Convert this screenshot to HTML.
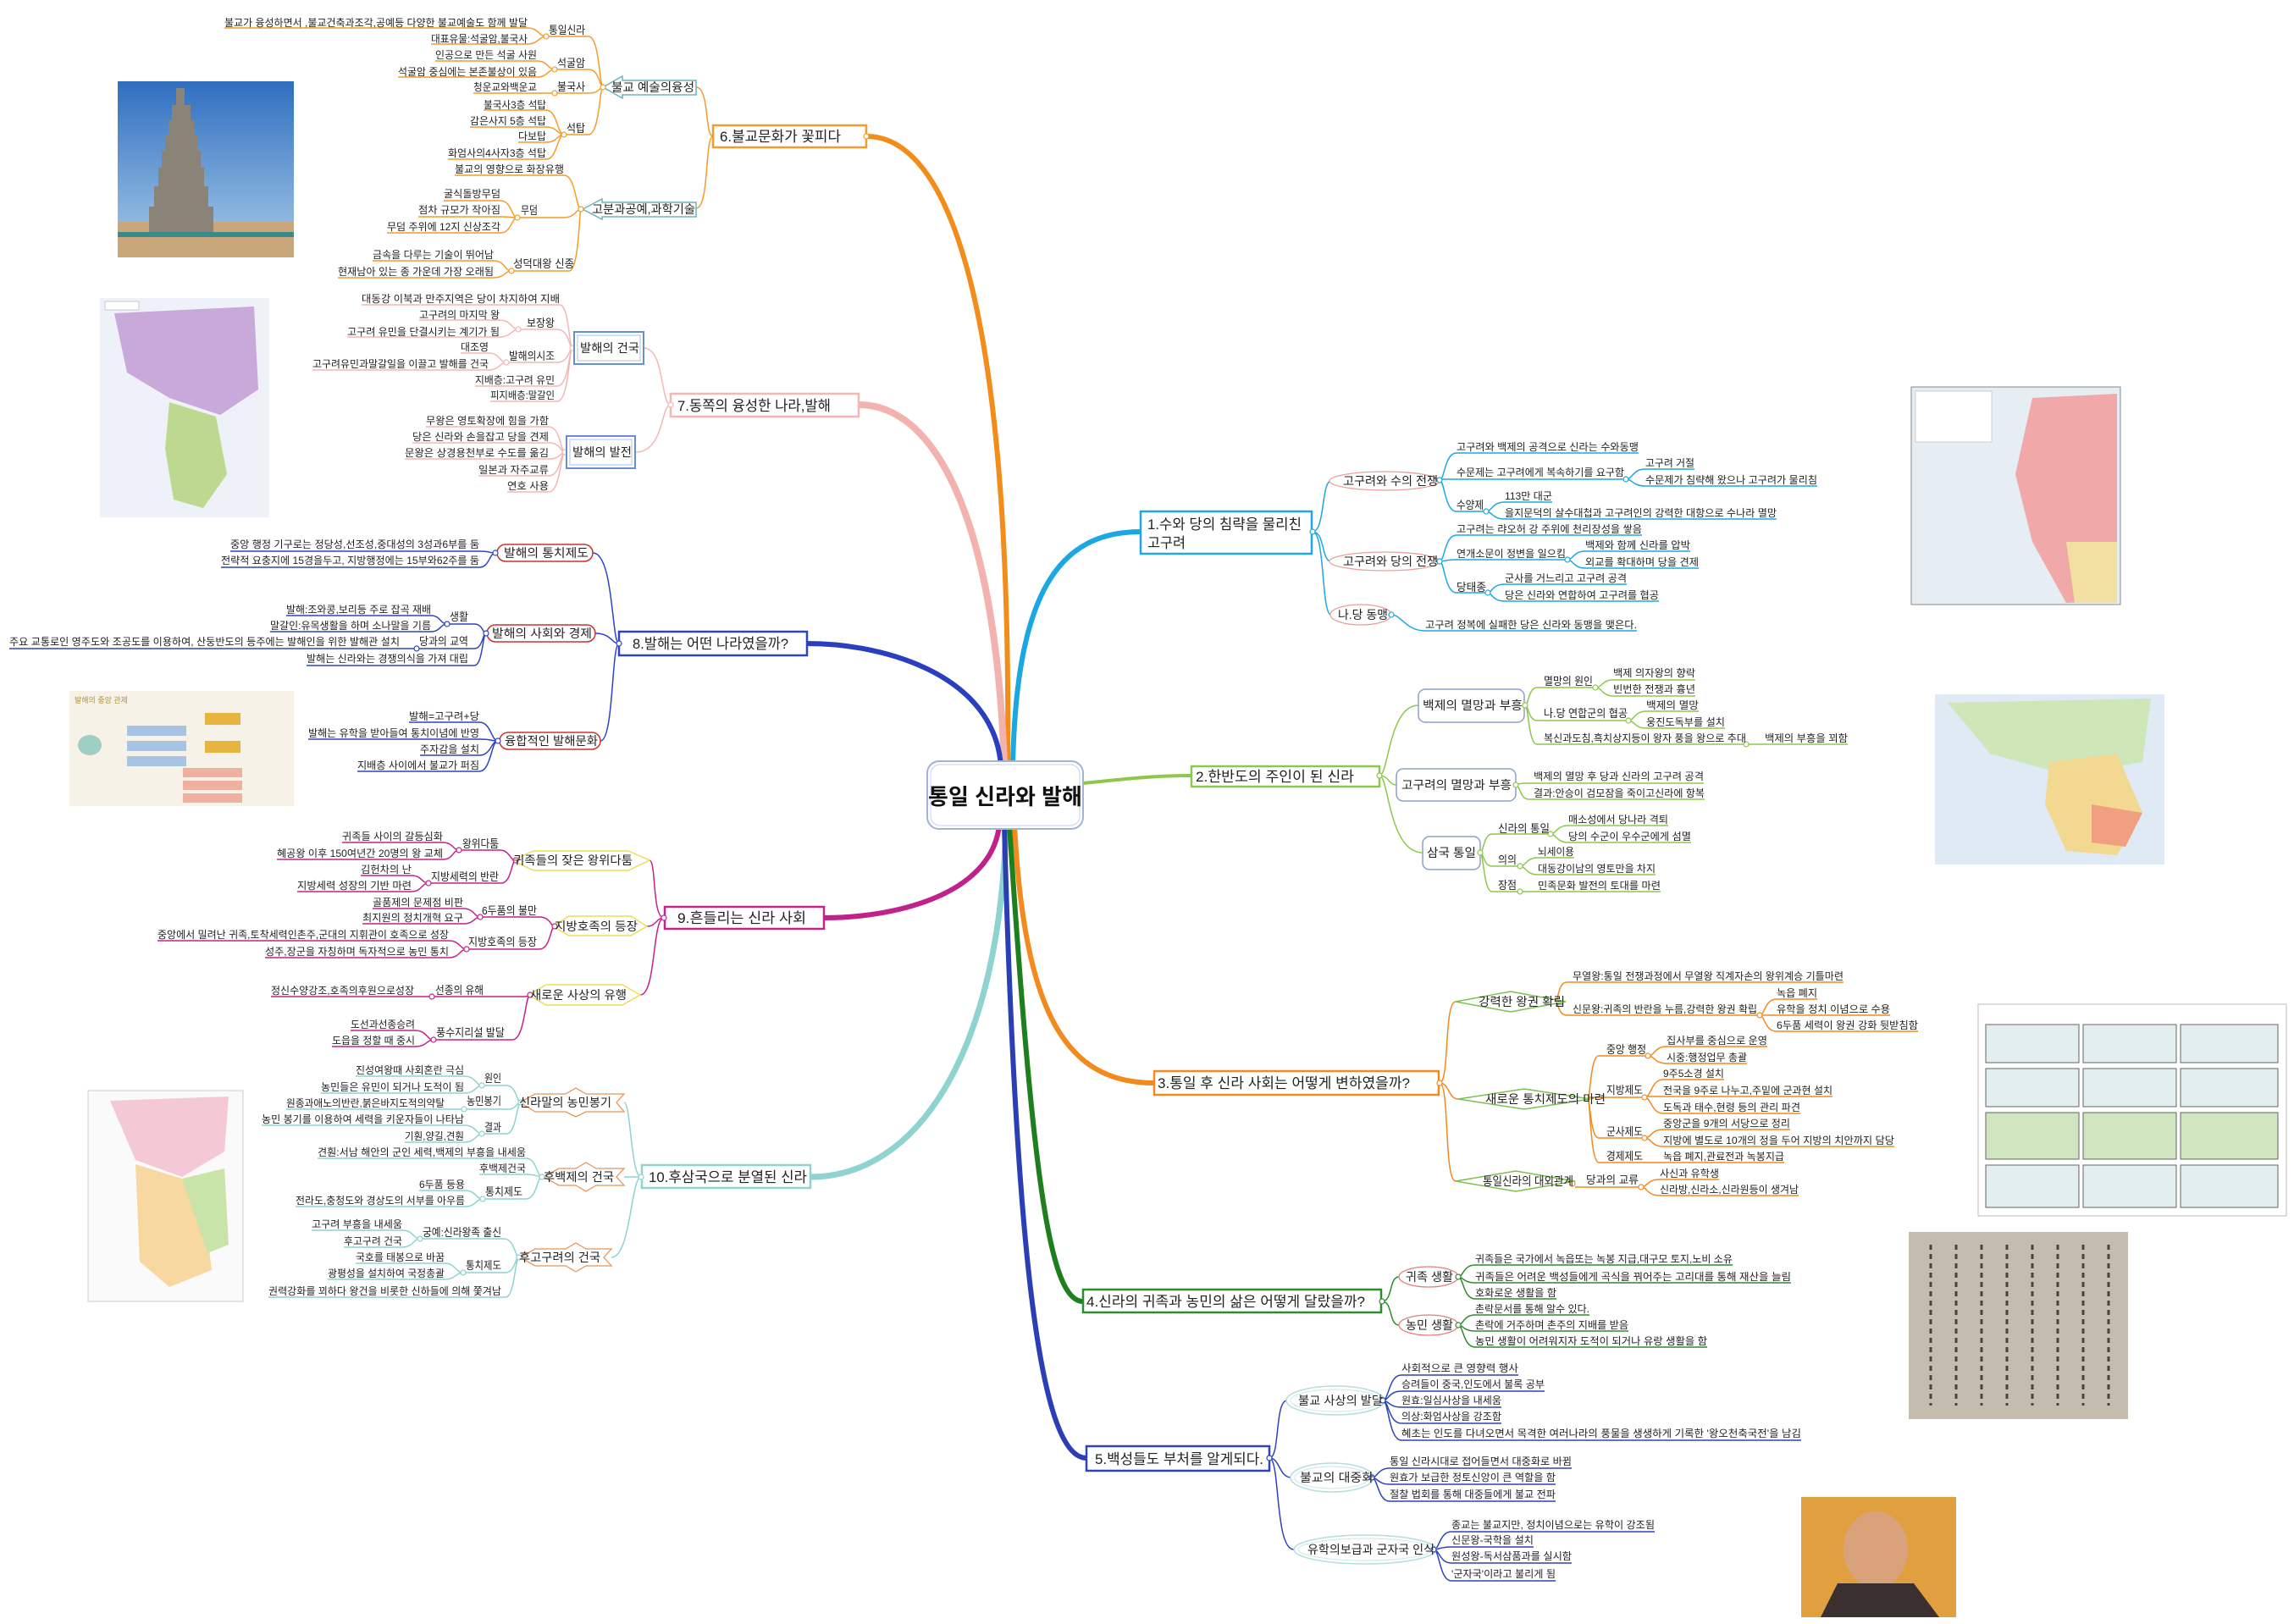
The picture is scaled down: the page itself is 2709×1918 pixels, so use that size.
<!DOCTYPE html>
<html><head><meta charset="utf-8"><style>
html,body{margin:0;padding:0;background:#fff;}
svg{display:block;}
text{font-family:"Liberation Sans","Noto Sans CJK KR",sans-serif;fill:#222;font-size:12px;}
.l{font-size:13px}.s{font-size:14px}.m{font-size:17px}.c{font-size:26px;font-weight:bold;fill:#111}
path{fill:none}
.dot{fill:#fff;stroke-width:1.2}
</style></head><body>
<svg width="2709" height="1918" viewBox="0 0 2709 1918" xmlns="http://www.w3.org/2000/svg">
<defs>
<linearGradient id="sky" x1="0" y1="0" x2="0" y2="1"><stop offset="0" stop-color="#2f6fc0"/><stop offset="1" stop-color="#a8cbe8"/></linearGradient>
</defs>

<!-- ===== images ===== -->
<rect x="139" y="96" width="208" height="208" fill="url(#sky)"/>
<rect x="139" y="262" width="208" height="42" fill="#c9a77a"/>
<g fill="#8a8478">
<rect x="208" y="104" width="10" height="20"/><rect x="203" y="124" width="22" height="18"/><rect x="199" y="142" width="30" height="18"/><rect x="195" y="160" width="38" height="18"/><rect x="191" y="178" width="46" height="20"/><rect x="187" y="198" width="54" height="22"/><rect x="182" y="220" width="64" height="24"/><rect x="176" y="244" width="76" height="30"/></g>
<rect x="139" y="274" width="208" height="6" fill="#3b8a8a"/>

<rect x="118" y="352" width="200" height="259" fill="#eef2f8"/>
<path d="M135,370 L300,362 L305,460 L260,490 L200,470 L150,440 Z" style="fill:#c9a8da"/>
<path d="M200,475 L255,492 L268,560 L240,600 L205,590 L195,530 Z" style="fill:#bcd98f"/>
<rect x="124" y="356" width="40" height="10" fill="#fff" stroke="#999" stroke-width="0.5"/>

<rect x="82" y="816" width="265" height="136" fill="#f7f2e8"/>
<text x="88" y="830" style="font-size:9px;fill:#b09040">발해의 중앙 관제</text>
<ellipse cx="106" cy="880" rx="14" ry="12" fill="#9fcfc4"/>
<g fill="#a8c4e4"><rect x="150" y="857" width="70" height="12"/><rect x="150" y="875" width="70" height="12"/><rect x="150" y="893" width="70" height="12"/></g>
<g fill="#e8b440"><rect x="242" y="842" width="42" height="14"/><rect x="242" y="875" width="42" height="14"/></g>
<g fill="#f0b0a0"><rect x="216" y="907" width="70" height="11"/><rect x="216" y="922" width="70" height="11"/><rect x="216" y="937" width="70" height="11"/></g>

<rect x="104" y="1288" width="183" height="249" fill="#fafafa" stroke="#ccc"/>
<path d="M130,1300 L270,1295 L265,1360 L215,1390 L160,1370 Z" style="fill:#f4c8d4"/>
<path d="M160,1375 L215,1392 L240,1420 L250,1500 L200,1520 L165,1490 Z" style="fill:#f6d8a0"/>
<path d="M215,1392 L265,1380 L270,1470 L245,1480 Z" style="fill:#c8e4a8"/>

<rect x="2257" y="457" width="247" height="257" fill="#e6edf3" stroke="#888"/>
<path d="M2400,470 L2500,465 L2500,710 L2440,712 L2400,640 L2380,560 Z" style="fill:#f0a8a8"/>
<path d="M2440,640 L2500,640 L2500,712 L2450,712 Z" style="fill:#f2e0a0"/>
<rect x="2262" y="462" width="90" height="60" fill="#fff" stroke="#aaa" stroke-width="0.5"/>

<rect x="2285" y="820" width="271" height="201" fill="#dfeaf5"/>
<path d="M2300,830 L2540,825 L2530,900 L2440,915 L2350,890 Z" style="fill:#cfe6b8"/>
<path d="M2420,900 L2500,890 L2530,960 L2500,1010 L2440,1005 L2415,950 Z" style="fill:#f2d890"/>
<path d="M2470,950 L2530,960 L2510,1000 L2470,995 Z" style="fill:#f0a080"/>

<rect x="2336" y="1186" width="364" height="250" fill="#fff" stroke="#bbb"/>
<g fill="#e2eef0" stroke="#666" stroke-width="1">
<rect x="2345" y="1210" width="110" height="45"/><rect x="2460" y="1210" width="110" height="45"/><rect x="2575" y="1210" width="115" height="45"/>
<rect x="2345" y="1262" width="110" height="45"/><rect x="2460" y="1262" width="110" height="45"/><rect x="2575" y="1262" width="115" height="45"/>
<rect x="2345" y="1314" width="110" height="55" style="fill:#cfe6c0"/><rect x="2460" y="1314" width="110" height="55" style="fill:#cfe6c0"/><rect x="2575" y="1314" width="115" height="55" style="fill:#cfe6c0"/>
<rect x="2345" y="1376" width="110" height="50"/><rect x="2460" y="1376" width="110" height="50"/><rect x="2575" y="1376" width="115" height="50"/></g>

<rect x="2254" y="1455" width="259" height="221" fill="#c4bcae"/>
<g stroke="#4a443c" stroke-width="3" stroke-dasharray="6 5">
<path d="M2280,1470 V1660"/><path d="M2310,1470 V1660"/><path d="M2340,1470 V1660"/><path d="M2370,1470 V1660"/><path d="M2400,1470 V1660"/><path d="M2430,1470 V1660"/><path d="M2460,1470 V1660"/><path d="M2490,1470 V1660"/></g>

<rect x="2127" y="1768" width="183" height="142" fill="#e0a040"/>
<ellipse cx="2215" cy="1830" rx="38" ry="45" fill="#d9a27a"/>
<path d="M2150,1910 L2170,1870 L2260,1870 L2290,1910 Z" style="fill:#3a3030"/>

<!-- ===== main connectors ===== -->
<g stroke-width="6" stroke-linecap="round">
<path d="M1190,905 C1195,320 1110,161 1023,161" stroke="#F28C1A"/>
<path d="M1186,905 C1175,600 1100,478 1014,478" stroke="#F2B3AE" stroke-width="8"/>
<path d="M1182,905 C1175,800 1050,760 953,760" stroke="#2A3EC0"/>
<path d="M1180,975 C1170,1060 1050,1084 973,1084" stroke="#C0228A"/>
<path d="M1188,975 C1180,1250 1080,1390 957,1390" stroke="#8ED3CF" stroke-width="7"/>
<path d="M1196,905 C1200,700 1250,628 1347,628" stroke="#1AA7E2"/>
<path d="M1279,925 C1330,920 1360,916 1407,916" stroke="#8CC84B" stroke-width="4"/>
<path d="M1198,975 C1210,1200 1260,1279 1363,1279" stroke="#F28A1E"/>
<path d="M1192,975 C1220,1400 1240,1537 1279,1537" stroke="#1E7F1E"/>
<path d="M1186,975 C1200,1500 1230,1722 1283,1722" stroke="#2C3EB4"/>
</g>

<!-- center -->
<rect x="1095" y="899" width="184" height="80" rx="14" fill="#fff" stroke="#9fb4d6" stroke-width="2"/>
<rect x="1099" y="903" width="176" height="72" rx="11" fill="#fff" stroke="#c4d2e8" stroke-width="1"/>
<text x="1187" y="950" class="c" text-anchor="middle">통일 신라와 발해</text>

<!-- ===== Branch 6 ===== -->
<g stroke="#F39C2B" stroke-width="1.5">
<rect x="842" y="148" width="181" height="26" fill="#fff" stroke-width="2.5"/>
<path d="M842,161 C832,161 838,103 822,103"/><path d="M842,161 C832,161 838,246 822,246"/>
<polygon points="712,103 735,90 735,95 822,95 822,112 735,112 735,116" fill="#fff" stroke="#6BB5B5"/>
<polygon points="688,247 711,235 711,239 822,239 822,256 711,256 711,259" fill="#fff" stroke="#6BB5B5"/>
<path d="M645,43 H695 C708,43 708,103 712,103"/>
<path d="M265,33 H623 C636,33 636,43 645,43"/><path d="M509,52 H623 C636,52 636,43 645,43"/>
<path d="M655,82 H695 C708,82 708,103 712,103"/>
<path d="M514,72 H634 C647,72 647,82 655,82"/><path d="M470,91 H634 C647,91 647,82 655,82"/>
<path d="M559,110 H695 C708,110 708,103 712,103"/>
<path d="M666,159 H695 C708,159 708,103 712,103"/>
<path d="M571,130 H645 C658,130 658,159 666,159"/><path d="M555,150 H645 C658,150 658,159 666,159"/><path d="M612,168 H645 C658,168 658,159 666,159"/><path d="M529,188 H645 C658,188 658,159 666,159"/>
<path d="M537,207 H666 C680,207 680,247 686,247"/>
<path d="M611,257 H665 C680,257 680,247 686,247"/>
<path d="M524,237 H591 C604,237 604,257 611,257"/><path d="M494,256 H591 C604,256 604,257 611,257"/><path d="M457,275 H591 C604,275 604,257 611,257"/>
<path d="M604,320 H672 C684,320 684,247 686,247"/>
<path d="M440,308 H583 C596,308 596,320 604,320"/><path d="M399,328 H583 C596,328 596,320 604,320"/>
<circle class="dot" cx="712" cy="103" r="3"/><circle class="dot" cx="686" cy="247" r="3"/><circle class="dot" cx="645" cy="43" r="3"/><circle class="dot" cx="655" cy="82" r="3"/><circle class="dot" cx="655" cy="110" r="3"/><circle class="dot" cx="666" cy="159" r="3"/><circle class="dot" cx="611" cy="257" r="3"/><circle class="dot" cx="604" cy="320" r="3"/><circle class="dot" cx="1023" cy="161" r="3"/>
</g>
<text x="850" y="167" class="m" textLength="143" lengthAdjust="spacingAndGlyphs">6.불교문화가 꽃피다</text>
<text x="722" y="108" class="s" textLength="98" lengthAdjust="spacingAndGlyphs">불교 예술의융성</text>
<text x="699" y="252" class="s" textLength="122" lengthAdjust="spacingAndGlyphs">고분과공예,과학기술</text>
<text x="648" y="40" class="l" textLength="43" lengthAdjust="spacingAndGlyphs">통일신라</text>
<text x="265" y="31" textLength="358" lengthAdjust="spacingAndGlyphs">불교가 융성하면서 ,불교건축과조각,공예등 다양한 불교예술도 함께 발달</text>
<text x="509" y="50" textLength="114" lengthAdjust="spacingAndGlyphs">대표유물:석굴암,불국사</text>
<text x="658" y="79" class="l" textLength="33" lengthAdjust="spacingAndGlyphs">석굴암</text>
<text x="514" y="69" textLength="120" lengthAdjust="spacingAndGlyphs">인공으로 만든 석굴 사원</text>
<text x="470" y="89" textLength="164" lengthAdjust="spacingAndGlyphs">석굴암 중심에는 본존불상이 있음</text>
<text x="658" y="107" class="l" textLength="33" lengthAdjust="spacingAndGlyphs">불국사</text>
<text x="559" y="107" textLength="75" lengthAdjust="spacingAndGlyphs">청운교와백운교</text>
<text x="669" y="156" class="l" textLength="22" lengthAdjust="spacingAndGlyphs">석탑</text>
<text x="571" y="128" textLength="74" lengthAdjust="spacingAndGlyphs">불국사3층 석탑</text>
<text x="555" y="147" textLength="90" lengthAdjust="spacingAndGlyphs">감은사지 5층 석탑</text>
<text x="612" y="165" textLength="33" lengthAdjust="spacingAndGlyphs">다보탑</text>
<text x="529" y="185" textLength="116" lengthAdjust="spacingAndGlyphs">화엄사의4사자3층 석탑</text>
<text x="537" y="204" textLength="129" lengthAdjust="spacingAndGlyphs">불교의 영향으로 화장유행</text>
<text x="615" y="253" class="l" textLength="20" lengthAdjust="spacingAndGlyphs">무덤</text>
<text x="524" y="233" textLength="67" lengthAdjust="spacingAndGlyphs">굴식돌방무덤</text>
<text x="494" y="252" textLength="97" lengthAdjust="spacingAndGlyphs">점차 규모가 작아짐</text>
<text x="457" y="272" textLength="134" lengthAdjust="spacingAndGlyphs">무덤 주위에 12지 신상조각</text>
<text x="606" y="316" class="l" textLength="72" lengthAdjust="spacingAndGlyphs">성덕대왕 신종</text>
<text x="440" y="305" textLength="143" lengthAdjust="spacingAndGlyphs">금속을 다루는 기술이 뛰어남</text>
<text x="399" y="325" textLength="184" lengthAdjust="spacingAndGlyphs">현재남아 있는 종 가운데 가장 오래됨</text>

<!-- ===== Branch 7 ===== -->
<g stroke="#F2B8B4" stroke-width="1.5">
<rect x="792" y="465" width="222" height="27" fill="#fff" stroke-width="2.5"/>
<path d="M792,478 C780,478 785,411 760,411"/><path d="M792,478 C780,478 785,534 750,534"/>
<path d="M427,360 H661 C672,360 672,411 676,411"/>
<path d="M612,389 H658 C672,389 672,411 676,411"/>
<path d="M495,378 H590 C604,378 604,389 612,389"/><path d="M410,398 H590 C604,398 604,389 612,389"/>
<path d="M598,428 H658 C672,428 672,411 676,411"/>
<path d="M544,417 H577 C590,417 590,428 598,428"/><path d="M369,437 H577 C590,437 590,428 598,428"/>
<path d="M561,456 H658 C672,456 672,411 676,411"/><path d="M579,474 H658 C672,474 672,411 676,411"/>
<path d="M503,504 H648 C662,504 662,534 667,534"/><path d="M487,523 H648 C662,523 662,534 667,534"/><path d="M478,542 H648 C662,542 662,534 667,534"/><path d="M565,562 H648 C662,562 662,534 667,534"/><path d="M599,581 H648 C662,581 662,534 667,534"/>
<circle class="dot" cx="792" cy="478" r="3"/><circle class="dot" cx="676" cy="411" r="3"/><circle class="dot" cx="667" cy="534" r="3"/><circle class="dot" cx="612" cy="389" r="3"/><circle class="dot" cx="598" cy="428" r="3"/>
</g>
<g fill="#fff" stroke="#6A8FD0" stroke-width="2"><rect x="678" y="392" width="82" height="38"/><rect x="669" y="515" width="81" height="38"/></g>
<g fill="none" stroke="#A9C0E8" stroke-width="1"><rect x="682" y="396" width="74" height="30"/><rect x="673" y="519" width="73" height="30"/></g>
<text x="800" y="485" class="m" textLength="181" lengthAdjust="spacingAndGlyphs">7.동쪽의 융성한 나라,발해</text>
<text x="685" y="416" class="s" textLength="70" lengthAdjust="spacingAndGlyphs">발해의 건국</text>
<text x="676" y="539" class="s" textLength="70" lengthAdjust="spacingAndGlyphs">발해의 발전</text>
<text x="427" y="357" textLength="234" lengthAdjust="spacingAndGlyphs">대동강 이북과 만주지역은 당이 차지하여 지배</text>
<text x="622" y="386" class="l" textLength="33" lengthAdjust="spacingAndGlyphs">보장왕</text>
<text x="495" y="376" textLength="95" lengthAdjust="spacingAndGlyphs">고구려의 마지막 왕</text>
<text x="410" y="396" textLength="180" lengthAdjust="spacingAndGlyphs">고구려 유민을 단결시키는 계기가 됨</text>
<text x="601" y="425" class="l" textLength="54" lengthAdjust="spacingAndGlyphs">발해의시조</text>
<text x="544" y="414" textLength="33" lengthAdjust="spacingAndGlyphs">대조영</text>
<text x="369" y="434" textLength="208" lengthAdjust="spacingAndGlyphs">고구려유민과말갈일을 이끌고 발해를 건국</text>
<text x="561" y="453" textLength="94" lengthAdjust="spacingAndGlyphs">지배층:고구려 유민</text>
<text x="579" y="471" textLength="76" lengthAdjust="spacingAndGlyphs">피지배층:말갈인</text>
<text x="503" y="501" textLength="145" lengthAdjust="spacingAndGlyphs">무왕은 영토확장에 힘을 가함</text>
<text x="487" y="520" textLength="161" lengthAdjust="spacingAndGlyphs">당은 신라와 손을잡고 당을 견제</text>
<text x="478" y="539" textLength="170" lengthAdjust="spacingAndGlyphs">문왕은 상경용천부로 수도를 옮김</text>
<text x="565" y="559" textLength="83" lengthAdjust="spacingAndGlyphs">일본과 자주교류</text>
<text x="599" y="578" textLength="49" lengthAdjust="spacingAndGlyphs">연호 사용</text>

<!-- ===== Branch 8 ===== -->
<g stroke="#2D44C4" stroke-width="1.5">
<rect x="731" y="746" width="222" height="28" fill="#fff" stroke-width="2.5"/>
<path d="M731,760 C722,760 725,653 700,653"/><path d="M731,760 C722,760 722,748 703,748"/><path d="M731,760 C722,760 725,875 709,875"/>
<path d="M272,651 H566 C578,651 578,653 585,653"/><path d="M261,670 H566 C578,670 578,653 585,653"/>
<path d="M528,737 H560 C570,737 570,748 574,748"/>
<path d="M338,727 H509 C520,727 520,737 528,737"/><path d="M319,746 H509 C520,746 520,737 528,737"/>
<path d="M11,766 H560 C570,766 570,748 574,748"/>
<path d="M362,786 H560 C570,786 570,748 574,748"/>
<path d="M483,853 H566 C580,853 580,875 588,875"/><path d="M364,873 H566 C580,873 580,875 588,875"/><path d="M496,892 H566 C580,892 580,875 588,875"/><path d="M422,911 H566 C580,911 580,875 588,875"/>
</g>
<g fill="#fff" stroke="#D03030" stroke-width="1.5"><rect x="587" y="643" width="113" height="20" rx="10"/><rect x="575" y="738" width="128" height="20" rx="10"/><rect x="590" y="865" width="119" height="20" rx="10"/></g>
<g stroke="#2D44C4" stroke-width="1.2" class="dot"><circle class="dot" cx="731" cy="760" r="3"/><circle class="dot" cx="585" cy="653" r="3"/><circle class="dot" cx="574" cy="748" r="3"/><circle class="dot" cx="588" cy="875" r="3"/><circle class="dot" cx="528" cy="737" r="3"/><circle class="dot" cx="492" cy="766" r="3"/></g>
<text x="747" y="766" class="m" textLength="184" lengthAdjust="spacingAndGlyphs">8.발해는 어떤 나라였을까?</text>
<text x="595" y="658" class="s" textLength="100" lengthAdjust="spacingAndGlyphs">발해의  통치제도</text>
<text x="581" y="753" class="s" textLength="118" lengthAdjust="spacingAndGlyphs">발해의 사회와 경제</text>
<text x="596" y="880" class="s" textLength="110" lengthAdjust="spacingAndGlyphs">융합적인 발해문화</text>
<text x="272" y="647" textLength="294" lengthAdjust="spacingAndGlyphs">중앙 행정 기구로는 정당성,선조성,중대성의 3성과6부를 둠</text>
<text x="261" y="666" textLength="305" lengthAdjust="spacingAndGlyphs">전략적 요충지에 15경을두고, 지방행정에는 15부와62주를 둠</text>
<text x="531" y="733" class="l" textLength="22" lengthAdjust="spacingAndGlyphs">생활</text>
<text x="338" y="724" textLength="171" lengthAdjust="spacingAndGlyphs">발해:조와콩,보리등 주로 잡곡 재배</text>
<text x="319" y="743" textLength="190" lengthAdjust="spacingAndGlyphs">말갈인:유목생활을 하며 소나말을 기름</text>
<text x="495" y="762" class="l" textLength="58" lengthAdjust="spacingAndGlyphs">당과의 교역</text>
<text x="11" y="762" textLength="461" lengthAdjust="spacingAndGlyphs">주요 교통로인 영주도와 조공도를 이용하여, 산둥반도의 등주에는 발해인을 위한 발해관 설치</text>
<text x="362" y="782" textLength="191" lengthAdjust="spacingAndGlyphs">발해는 신라와는 경쟁의식을 가져 대립</text>
<text x="483" y="850" textLength="83" lengthAdjust="spacingAndGlyphs">발해=고구려+당</text>
<text x="364" y="870" textLength="202" lengthAdjust="spacingAndGlyphs">발해는 유학을 받아들여 통치이념에 반영</text>
<text x="496" y="889" textLength="70" lengthAdjust="spacingAndGlyphs">주자감을 설치</text>
<text x="422" y="908" textLength="144" lengthAdjust="spacingAndGlyphs">지배층 사이에서 불교가 퍼짐</text>

<!-- ===== Branch 9 ===== -->
<g stroke="#C2238C" stroke-width="1.5">
<rect x="785" y="1071" width="188" height="26" fill="#fff" stroke-width="2.5"/>
<path d="M784,1084 C770,1084 775,1016 767,1016"/><path d="M784,1084 C775,1084 775,1094 764,1094"/><path d="M784,1084 C770,1084 775,1175 756,1175"/>
<path d="M542,1004 H590 C602,1004 602,1016 609,1016"/>
<path d="M404,995 H523 C535,995 535,1004 542,1004"/><path d="M327,1015 H523 C535,1015 535,1004 542,1004"/>
<path d="M506,1043 H592 C604,1043 604,1016 609,1016"/>
<path d="M426,1034 H486 C498,1034 498,1043 506,1043"/><path d="M351,1053 H486 C498,1053 498,1043 506,1043"/>
<path d="M567,1083 H637 C650,1083 650,1094 655,1094"/>
<path d="M440,1073 H547 C560,1073 560,1083 567,1083"/><path d="M428,1091 H547 C560,1091 560,1083 567,1083"/>
<path d="M551,1121 H637 C650,1121 650,1094 655,1094"/>
<path d="M186,1111 H530 C543,1111 543,1121 551,1121"/><path d="M313,1131 H530 C543,1131 543,1121 551,1121"/>
<path d="M320,1177 H620 C624,1177 624,1175 626,1175"/>
<path d="M512,1228 H605 C620,1228 620,1175 626,1175"/>
<path d="M414,1217 H490 C504,1217 504,1228 512,1228"/><path d="M392,1236 H490 C504,1236 504,1228 512,1228"/>
</g>
<g fill="#fff" stroke="#EEDD55" stroke-width="1.5">
<polygon points="605,1016 630,1005 742,1005 767,1016 742,1028 630,1028"/>
<polygon points="653,1094 672,1082 745,1082 764,1094 745,1105 672,1105"/>
<polygon points="624,1175 645,1163 735,1163 756,1175 735,1187 645,1187"/></g>
<g stroke="#C2238C"><circle class="dot" cx="784" cy="1084" r="3"/><circle class="dot" cx="609" cy="1016" r="3"/><circle class="dot" cx="655" cy="1094" r="3"/><circle class="dot" cx="626" cy="1175" r="3"/><circle class="dot" cx="542" cy="1004" r="3"/><circle class="dot" cx="506" cy="1043" r="3"/><circle class="dot" cx="567" cy="1083" r="3"/><circle class="dot" cx="551" cy="1121" r="3"/><circle class="dot" cx="510" cy="1177" r="3"/><circle class="dot" cx="512" cy="1228" r="3"/></g>
<text x="800" y="1090" class="m" textLength="152" lengthAdjust="spacingAndGlyphs">9.흔들리는  신라 사회</text>
<text x="606" y="1021" class="s" textLength="141" lengthAdjust="spacingAndGlyphs">귀족들의 잦은 왕위다툼</text>
<text x="655" y="1099" class="s" textLength="98" lengthAdjust="spacingAndGlyphs">지방호족의 등장</text>
<text x="626" y="1180" class="s" textLength="114" lengthAdjust="spacingAndGlyphs">새로운 사상의 유행</text>
<text x="546" y="1001" class="l" textLength="43" lengthAdjust="spacingAndGlyphs">왕위다툼</text>
<text x="404" y="992" textLength="119" lengthAdjust="spacingAndGlyphs">귀족들 사이의 갈등심화</text>
<text x="327" y="1012" textLength="196" lengthAdjust="spacingAndGlyphs">혜공왕 이후 150여년간 20명의 왕 교체</text>
<text x="509" y="1040" class="l" textLength="80" lengthAdjust="spacingAndGlyphs">지방세력의 반란</text>
<text x="426" y="1031" textLength="60" lengthAdjust="spacingAndGlyphs">김헌차의 난</text>
<text x="351" y="1050" textLength="135" lengthAdjust="spacingAndGlyphs">지방세력 성장의 기반 마련</text>
<text x="569" y="1080" class="l" textLength="65" lengthAdjust="spacingAndGlyphs">6두품의 불만</text>
<text x="440" y="1070" textLength="107" lengthAdjust="spacingAndGlyphs">골품제의 문제점 비판</text>
<text x="428" y="1088" textLength="119" lengthAdjust="spacingAndGlyphs">최지원의 정치개혁 요구</text>
<text x="553" y="1117" class="l" textLength="81" lengthAdjust="spacingAndGlyphs">지방호족의 등장</text>
<text x="186" y="1108" textLength="344" lengthAdjust="spacingAndGlyphs">중앙에서 밀려난 귀족,토착세력인촌주,군대의 지휘관이 호족으로 성장</text>
<text x="313" y="1128" textLength="217" lengthAdjust="spacingAndGlyphs">성주,장군을 자칭하며 독자적으로 농민 통치</text>
<text x="514" y="1174" class="l" textLength="57" lengthAdjust="spacingAndGlyphs">선종의 유해</text>
<text x="320" y="1174" textLength="169" lengthAdjust="spacingAndGlyphs">정신수양강조,호족의후원으로성장</text>
<text x="515" y="1224" class="l" textLength="81" lengthAdjust="spacingAndGlyphs">풍수지리설 발달</text>
<text x="414" y="1214" textLength="76" lengthAdjust="spacingAndGlyphs">도선과선종승려</text>
<text x="392" y="1233" textLength="98" lengthAdjust="spacingAndGlyphs">도읍을 정할 때 중시</text>

<!-- ===== Branch 10 ===== -->
<g stroke="#8ED3CF" stroke-width="1.5">
<rect x="758" y="1376" width="199" height="27" fill="#fff" stroke-width="2.5"/>
<path d="M757,1390 C745,1390 745,1302 737,1302"/><path d="M757,1390 H737"/><path d="M757,1390 C745,1390 745,1485 722,1485"/>
<path d="M569,1282 H598 C610,1282 610,1302 615,1302"/>
<path d="M420,1271 H548 C562,1271 562,1282 569,1282"/><path d="M379,1291 H548 C562,1291 562,1282 569,1282"/>
<path d="M338,1310 H600 C610,1310 610,1302 615,1302"/>
<path d="M569,1339 H598 C610,1339 610,1302 615,1302"/>
<path d="M309,1329 H548 C562,1329 562,1339 569,1339"/><path d="M478,1349 H548 C562,1349 562,1339 569,1339"/>
<path d="M375,1368 H621 C634,1368 634,1390 640,1390"/><path d="M566,1387 H621 C634,1387 634,1390 640,1390"/>
<path d="M570,1416 H621 C634,1416 634,1390 640,1390"/>
<path d="M495,1406 H549 C562,1406 562,1416 570,1416"/><path d="M349,1425 H549 C562,1425 562,1416 570,1416"/>
<path d="M496,1463 H595 C608,1463 608,1485 613,1485"/>
<path d="M368,1453 H475 C488,1453 488,1463 496,1463"/><path d="M406,1473 H475 C488,1473 488,1463 496,1463"/>
<path d="M547,1503 H597 C608,1503 608,1485 613,1485"/>
<path d="M420,1492 H525 C538,1492 538,1503 547,1503"/><path d="M387,1511 H525 C538,1511 538,1503 547,1503"/>
<path d="M317,1532 H597 C608,1532 608,1485 613,1485"/>
</g>
<g fill="#fff" stroke="#E89558" stroke-width="1.3">
<polygon points="614,1302 632,1292 668,1292 680,1285 692,1292 737,1292 728,1302 737,1313 692,1313 680,1319 668,1313 632,1313"/>
<polygon points="642,1390 660,1380 680,1380 692,1373 704,1380 737,1380 728,1390 737,1400 704,1400 692,1407 680,1400 660,1400"/>
<polygon points="614,1485 632,1475 668,1475 680,1468 692,1475 722,1475 713,1485 722,1495 692,1495 680,1502 668,1495 632,1495"/></g>
<g stroke="#8ED3CF"><circle class="dot" cx="757" cy="1390" r="3"/><circle class="dot" cx="615" cy="1302" r="3"/><circle class="dot" cx="640" cy="1390" r="3"/><circle class="dot" cx="613" cy="1485" r="3"/><circle class="dot" cx="569" cy="1282" r="3"/><circle class="dot" cx="548" cy="1310" r="3"/><circle class="dot" cx="569" cy="1339" r="3"/><circle class="dot" cx="570" cy="1416" r="3"/><circle class="dot" cx="496" cy="1463" r="3"/><circle class="dot" cx="547" cy="1503" r="3"/></g>
<text x="766" y="1396" class="m" textLength="187" lengthAdjust="spacingAndGlyphs">10.후삼국으로 분열된 신라</text>
<text x="613" y="1307" class="s" textLength="109" lengthAdjust="spacingAndGlyphs">신라말의 농민봉기</text>
<text x="642" y="1395" class="s" textLength="83" lengthAdjust="spacingAndGlyphs">후백제의 건국</text>
<text x="613" y="1490" class="s" textLength="96" lengthAdjust="spacingAndGlyphs">후고구려의 건국</text>
<text x="572" y="1278" class="l" textLength="20" lengthAdjust="spacingAndGlyphs">원인</text>
<text x="420" y="1268" textLength="128" lengthAdjust="spacingAndGlyphs">진성여왕때 사회혼란 극심</text>
<text x="379" y="1288" textLength="169" lengthAdjust="spacingAndGlyphs">농민들은 유민이 되거나 도적이 됨</text>
<text x="551" y="1305" class="l" textLength="41" lengthAdjust="spacingAndGlyphs">농민봉기</text>
<text x="338" y="1307" textLength="187" lengthAdjust="spacingAndGlyphs">원종과애노의반란,붉은바지도적의약탈</text>
<text x="572" y="1336" class="l" textLength="20" lengthAdjust="spacingAndGlyphs">결과</text>
<text x="309" y="1326" textLength="239" lengthAdjust="spacingAndGlyphs">농민 봉기를 이용하여 세력을 키운자들이 나타남</text>
<text x="478" y="1346" textLength="70" lengthAdjust="spacingAndGlyphs">기훤,양길,견훤</text>
<text x="375" y="1365" textLength="246" lengthAdjust="spacingAndGlyphs">견훤:서남 해안의 군인 세력,백제의 부흥을 내세움</text>
<text x="566" y="1384" textLength="55" lengthAdjust="spacingAndGlyphs">후백제건국</text>
<text x="573" y="1412" class="l" textLength="44" lengthAdjust="spacingAndGlyphs">통치제도</text>
<text x="495" y="1403" textLength="54" lengthAdjust="spacingAndGlyphs">6두품 등용</text>
<text x="349" y="1422" textLength="200" lengthAdjust="spacingAndGlyphs">전라도,충청도와 경상도의 서부를 아우름</text>
<text x="499" y="1460" class="l" textLength="93" lengthAdjust="spacingAndGlyphs">궁예:신라왕족 출신</text>
<text x="368" y="1450" textLength="107" lengthAdjust="spacingAndGlyphs">고구려 부흥을 내세움</text>
<text x="406" y="1470" textLength="69" lengthAdjust="spacingAndGlyphs">후고구려 건국</text>
<text x="550" y="1499" class="l" textLength="42" lengthAdjust="spacingAndGlyphs">통치제도</text>
<text x="420" y="1489" textLength="105" lengthAdjust="spacingAndGlyphs">국호를 태봉으로 바꿈</text>
<text x="387" y="1508" textLength="138" lengthAdjust="spacingAndGlyphs">광평성을 설치하여 국정총괄</text>
<text x="317" y="1529" textLength="275" lengthAdjust="spacingAndGlyphs">권력강화를 꾀하다 왕건을 비롯한 신하들에 의해 쫓겨남</text>

<!-- ===== Branch 1 ===== -->
<g stroke="#1EA7E1" stroke-width="1.5">
<rect x="1347" y="604" width="202" height="50" fill="#fff" stroke-width="2.5"/>
<path d="M1550,628 C1565,628 1560,568 1572,568"/><path d="M1550,628 C1565,628 1560,663 1572,663"/><path d="M1550,628 C1565,628 1560,726 1572,726"/>
<path d="M1935,535 H1720 C1706,535 1706,567 1700,567"/>
<path d="M1920,566 H1700"/>
<path d="M2001,554 H1943 C1928,554 1928,566 1920,566"/><path d="M2146,574 H1943 C1928,574 1928,566 1920,566"/>
<path d="M1755,604 H1720 C1706,604 1706,567 1700,567"/>
<path d="M1833,593 H1777 C1762,593 1762,604 1755,604"/><path d="M2098,613 H1777 C1762,613 1762,604 1755,604"/>
<path d="M1939,632 H1720 C1706,632 1706,663 1700,663"/>
<path d="M1851,661 H1720 C1706,661 1706,663 1700,663"/>
<path d="M1996,651 H1872 C1858,651 1858,661 1851,661"/><path d="M2006,671 H1872 C1858,671 1858,661 1851,661"/>
<path d="M1757,700 H1720 C1706,700 1706,663 1700,663"/>
<path d="M1921,690 H1777 C1762,690 1762,700 1757,700"/><path d="M1959,710 H1777 C1762,710 1762,700 1757,700"/>
<path d="M1933,745 H1683 C1660,745 1655,726 1643,726"/>
</g>
<g fill="#fff" stroke="#E8A0A0" stroke-width="1.3"><ellipse cx="1635" cy="568" rx="65" ry="11"/><ellipse cx="1635" cy="663" rx="65" ry="11"/><ellipse cx="1607" cy="726" rx="36" ry="12"/></g>
<g stroke="#1EA7E1"><circle class="dot" cx="1550" cy="628" r="3"/><circle class="dot" cx="1700" cy="567" r="3"/><circle class="dot" cx="1700" cy="663" r="3"/><circle class="dot" cx="1643" cy="726" r="3"/><circle class="dot" cx="1920" cy="566" r="3"/><circle class="dot" cx="1755" cy="604" r="3"/><circle class="dot" cx="1851" cy="661" r="3"/><circle class="dot" cx="1757" cy="700" r="3"/></g>
<text x="1355" y="625" class="m" textLength="182" lengthAdjust="spacingAndGlyphs">1.수와 당의 침략을 물리친</text>
<text x="1355" y="647" class="m" textLength="45" lengthAdjust="spacingAndGlyphs">고구려</text>
<text x="1586" y="573" class="s" textLength="112" lengthAdjust="spacingAndGlyphs">고구려와 수의 전쟁</text>
<text x="1586" y="668" class="s" textLength="112" lengthAdjust="spacingAndGlyphs">고구려와 당의 전쟁</text>
<text x="1580" y="731" class="s" textLength="59" lengthAdjust="spacingAndGlyphs">나.당 동맹</text>
<text x="1720" y="532" textLength="215" lengthAdjust="spacingAndGlyphs">고구려와 백제의 공격으로 신라는 수와동맹</text>
<text x="1720" y="562" textLength="198" lengthAdjust="spacingAndGlyphs">수문제는 고구려에게 복속하기를 요구함</text>
<text x="1943" y="551" textLength="58" lengthAdjust="spacingAndGlyphs">고구려 거절</text>
<text x="1943" y="571" textLength="203" lengthAdjust="spacingAndGlyphs">수문제가 침략해 왔으나 고구려가 물리침</text>
<text x="1720" y="601" class="l" textLength="32" lengthAdjust="spacingAndGlyphs">수양제</text>
<text x="1777" y="590" textLength="56" lengthAdjust="spacingAndGlyphs">113만 대군</text>
<text x="1777" y="610" textLength="321" lengthAdjust="spacingAndGlyphs">을지문덕의 살수대첩과 고구려인의 강력한 대항으로 수나라 멸망</text>
<text x="1720" y="629" textLength="219" lengthAdjust="spacingAndGlyphs">고구려는 랴오허 강 주위에 천리장성을 쌓음</text>
<text x="1720" y="658" textLength="129" lengthAdjust="spacingAndGlyphs">연개소문이 정변을 일으킴</text>
<text x="1872" y="648" textLength="124" lengthAdjust="spacingAndGlyphs">백제와 함께 신라를 압박</text>
<text x="1872" y="668" textLength="134" lengthAdjust="spacingAndGlyphs">외교를 확대하며 당을 견제</text>
<text x="1720" y="698" class="l" textLength="35" lengthAdjust="spacingAndGlyphs">당태종</text>
<text x="1777" y="687" textLength="144" lengthAdjust="spacingAndGlyphs">군사를 거느리고 고구려 공격</text>
<text x="1777" y="707" textLength="182" lengthAdjust="spacingAndGlyphs">당은 신라와 연합하여 고구려를 협공</text>
<text x="1683" y="742" textLength="250" lengthAdjust="spacingAndGlyphs">고구려 정복에 실패한 당은 신라와 동맹을 맺은다.</text>

<!-- ===== Branch 2 ===== -->
<g stroke="#8CC84B" stroke-width="1.5">
<rect x="1407" y="905" width="222" height="24" fill="#fff" stroke-width="2.5"/>
<path d="M1629,916 C1640,916 1640,833 1675,833"/><path d="M1629,916 C1640,916 1640,927 1649,927"/><path d="M1629,916 C1640,916 1640,1007 1680,1007"/>
<path d="M1884,812 H1815 C1805,812 1805,833 1801,833"/>
<path d="M2002,803 H1905 C1892,803 1892,812 1884,812"/><path d="M2002,822 H1905 C1892,822 1892,812 1884,812"/>
<path d="M1923,851 H1815 C1805,851 1805,833 1801,833"/>
<path d="M2006,840 H1944 C1930,840 1930,851 1923,851"/><path d="M2037,860 H1944 C1930,860 1930,851 1923,851"/>
<path d="M2182,879 H1815 C1805,879 1805,833 1801,833"/>
<path d="M2012,925 H1800 C1793,925 1793,927 1790,927"/><path d="M2013,944 H1805 C1795,944 1795,927 1790,927"/>
<path d="M1831,985 H1762 C1752,985 1752,1007 1748,1007"/>
<path d="M1970,975 H1852 C1838,975 1838,985 1831,985"/><path d="M1997,995 H1852 C1838,995 1838,985 1831,985"/>
<path d="M1795,1023 H1762 C1752,1023 1752,1007 1748,1007"/>
<path d="M1859,1013 H1816 C1802,1013 1802,1023 1795,1023"/><path d="M1955,1033 H1816 C1802,1033 1802,1023 1795,1023"/>
<path d="M1961,1053 H1762 C1752,1053 1752,1007 1748,1007"/>
</g>
<g fill="#fff" stroke="#8DA0C8" stroke-width="1.5"><rect x="1675" y="814" width="125" height="39" rx="8"/><rect x="1649" y="908" width="141" height="38" rx="8"/><rect x="1680" y="988" width="68" height="39" rx="8"/></g>
<g stroke="#8CC84B"><circle class="dot" cx="1629" cy="916" r="3"/><circle class="dot" cx="1801" cy="833" r="3"/><circle class="dot" cx="1790" cy="927" r="3"/><circle class="dot" cx="1748" cy="1007" r="3"/><circle class="dot" cx="1884" cy="812" r="3"/><circle class="dot" cx="1923" cy="851" r="3"/><circle class="dot" cx="2062" cy="879" r="3"/><circle class="dot" cx="1831" cy="985" r="3"/><circle class="dot" cx="1795" cy="1023" r="3"/><circle class="dot" cx="1795" cy="1053" r="3"/></g>
<text x="1412" y="923" class="m" textLength="187" lengthAdjust="spacingAndGlyphs">2.한반도의 주인이 된 신라</text>
<text x="1680" y="838" class="s" textLength="118" lengthAdjust="spacingAndGlyphs">백제의 멸망과 부흥</text>
<text x="1655" y="932" class="s" textLength="130" lengthAdjust="spacingAndGlyphs">고구려의 멸망과 부흥</text>
<text x="1685" y="1012" class="s" textLength="58" lengthAdjust="spacingAndGlyphs">삼국 통일</text>
<text x="1823" y="809" class="l" textLength="58" lengthAdjust="spacingAndGlyphs">멸망의 원인</text>
<text x="1905" y="799" textLength="97" lengthAdjust="spacingAndGlyphs">백제 의자왕의 향락</text>
<text x="1905" y="818" textLength="97" lengthAdjust="spacingAndGlyphs">빈번한 전쟁과 흉년</text>
<text x="1823" y="847" class="l" textLength="99" lengthAdjust="spacingAndGlyphs">나.당 연합군의 협공</text>
<text x="1944" y="837" textLength="62" lengthAdjust="spacingAndGlyphs">백제의 멸망</text>
<text x="1944" y="857" textLength="93" lengthAdjust="spacingAndGlyphs">웅진도독부를 설치</text>
<text x="1823" y="876" textLength="239" lengthAdjust="spacingAndGlyphs">복신과도침,흑치상지등이 왕자 풍을 왕으로 추대</text>
<text x="2084" y="876" textLength="98" lengthAdjust="spacingAndGlyphs">백제의 부흥을 꾀함</text>
<text x="1811" y="921" textLength="201" lengthAdjust="spacingAndGlyphs">백제의 멸망 후 당과 신라의 고구려 공격</text>
<text x="1811" y="941" textLength="202" lengthAdjust="spacingAndGlyphs">결과:안승이 검모잠을 죽이고신라에 항복</text>
<text x="1769" y="983" class="l" textLength="61" lengthAdjust="spacingAndGlyphs">신라의 통일</text>
<text x="1852" y="972" textLength="118" lengthAdjust="spacingAndGlyphs">매소성에서 당나라 격퇴</text>
<text x="1852" y="992" textLength="145" lengthAdjust="spacingAndGlyphs">당의 수군이 우수군에게 섬멸</text>
<text x="1769" y="1020" class="l" textLength="22" lengthAdjust="spacingAndGlyphs">의의</text>
<text x="1816" y="1010" textLength="43" lengthAdjust="spacingAndGlyphs">뇌세이용</text>
<text x="1816" y="1030" textLength="139" lengthAdjust="spacingAndGlyphs">대동강이남의 영토만을 차지</text>
<text x="1769" y="1050" class="l" textLength="22" lengthAdjust="spacingAndGlyphs">장점</text>
<text x="1816" y="1050" textLength="145" lengthAdjust="spacingAndGlyphs">민족문화 발전의 토대를 마련</text>

<!-- ===== Branch 3 ===== -->
<g stroke="#F28A1E" stroke-width="1.5">
<rect x="1363" y="1265" width="336" height="28" fill="#fff" stroke-width="2.5"/>
<path d="M1700,1279 C1712,1279 1705,1183 1719,1183"/><path d="M1700,1279 C1712,1279 1710,1298 1722,1298"/><path d="M1700,1279 C1712,1279 1705,1395 1719,1395"/>
<path d="M2177,1160 H1850 C1840,1160 1840,1183 1837,1183"/>
<path d="M2078,1199 H1850 C1840,1199 1840,1183 1837,1183"/>
<path d="M2146,1180 H2098 C2084,1180 2084,1199 2078,1199"/><path d="M2232,1199 H2078"/><path d="M2265,1218 H2098 C2084,1218 2084,1199 2078,1199"/>
<path d="M1946,1247 H1888 C1878,1247 1878,1298 1875,1298"/>
<path d="M2087,1236 H1968 C1954,1236 1954,1247 1946,1247"/><path d="M2063,1256 H1968 C1954,1256 1954,1247 1946,1247"/>
<path d="M1942,1296 H1875"/>
<path d="M2036,1275 H1964 C1950,1275 1950,1296 1942,1296"/><path d="M2164,1295 H1942"/><path d="M2126,1315 H1964 C1950,1315 1950,1296 1942,1296"/>
<path d="M1942,1344 H1888 C1878,1344 1878,1298 1875,1298"/>
<path d="M2114,1334 H1964 C1950,1334 1950,1344 1942,1344"/><path d="M2237,1354 H1964 C1950,1354 1950,1344 1942,1344"/>
<path d="M2107,1373 H1888 C1878,1373 1878,1298 1875,1298"/>
<path d="M1938,1402 H1860"/>
<path d="M2030,1393 H1960 C1945,1393 1945,1402 1938,1402"/><path d="M2124,1412 H1960 C1945,1412 1945,1402 1938,1402"/>
</g>
<g fill="#fff" stroke="#7CC050" stroke-width="1.5">
<polygon points="1719,1183 1784,1171 1849,1183 1784,1195"/>
<polygon points="1722,1298 1800,1286 1878,1298 1800,1310"/>
<polygon points="1719,1395 1790,1383 1860,1395 1790,1407"/></g>
<g stroke="#F28A1E"><circle class="dot" cx="1700" cy="1279" r="3"/><circle class="dot" cx="2078" cy="1199" r="3"/><circle class="dot" cx="1946" cy="1247" r="3"/><circle class="dot" cx="1942" cy="1296" r="3"/><circle class="dot" cx="1942" cy="1344" r="3"/><circle class="dot" cx="1938" cy="1402" r="3"/><circle class="dot" cx="1857" cy="1398" r="3"/></g>
<text x="1367" y="1285" class="m" textLength="298" lengthAdjust="spacingAndGlyphs">3.통일 후 신라 사회는 어떻게 변하였을까?</text>
<text x="1746" y="1188" class="s" textLength="102" lengthAdjust="spacingAndGlyphs">강력한 왕권 확립</text>
<text x="1754" y="1303" class="s" textLength="142" lengthAdjust="spacingAndGlyphs">새로운 통치제도의 마련</text>
<text x="1751" y="1400" class="s" textLength="107" lengthAdjust="spacingAndGlyphs">통일신라의 대외관계</text>
<text x="1873" y="1398" class="l" textLength="62" lengthAdjust="spacingAndGlyphs">당과의 교류</text>
<text x="1857" y="1157" textLength="320" lengthAdjust="spacingAndGlyphs">무열왕:통일 전쟁과정에서 무열왕 직계자손의 왕위계승 기틀마련</text>
<text x="1857" y="1196" textLength="218" lengthAdjust="spacingAndGlyphs">신문왕:귀족의 반란을 누름,강력한 왕권 확립</text>
<text x="2098" y="1177" textLength="48" lengthAdjust="spacingAndGlyphs">녹읍 폐지</text>
<text x="2098" y="1196" textLength="134" lengthAdjust="spacingAndGlyphs">유학을 정치 이념으로 수용</text>
<text x="2098" y="1215" textLength="167" lengthAdjust="spacingAndGlyphs">6두품 세력이 왕권 강화 뒷받침함</text>
<text x="1897" y="1244" class="l" textLength="47" lengthAdjust="spacingAndGlyphs">중앙 행정</text>
<text x="1968" y="1233" textLength="119" lengthAdjust="spacingAndGlyphs">집사부를 중심으로 운영</text>
<text x="1968" y="1253" textLength="95" lengthAdjust="spacingAndGlyphs">시중:행정업무 총괄</text>
<text x="1897" y="1292" class="l" textLength="43" lengthAdjust="spacingAndGlyphs">지방제도</text>
<text x="1964" y="1272" textLength="72" lengthAdjust="spacingAndGlyphs">9주5소경 설치</text>
<text x="1964" y="1292" textLength="200" lengthAdjust="spacingAndGlyphs">전국을 9주로 나누고,주밑에 군과현 설치</text>
<text x="1964" y="1312" textLength="162" lengthAdjust="spacingAndGlyphs">도독과 태수,현령 등의 관리 파견</text>
<text x="1897" y="1341" class="l" textLength="43" lengthAdjust="spacingAndGlyphs">군사제도</text>
<text x="1964" y="1331" textLength="150" lengthAdjust="spacingAndGlyphs">중앙군을 9개의 서당으로 정리</text>
<text x="1964" y="1351" textLength="273" lengthAdjust="spacingAndGlyphs">지방에 별도로 10개의 정을 두어 지방의 치안까지 담당</text>
<text x="1897" y="1370" class="l" textLength="43" lengthAdjust="spacingAndGlyphs">경제제도</text>
<text x="1964" y="1370" textLength="143" lengthAdjust="spacingAndGlyphs">녹읍 폐지,관료전과 녹봉지급</text>
<text x="1960" y="1390" textLength="70" lengthAdjust="spacingAndGlyphs">사신과 유학생</text>
<text x="1960" y="1409" textLength="164" lengthAdjust="spacingAndGlyphs">신라방,신라소,신라원등이 생겨남</text>

<!-- ===== Branch 4 ===== -->
<g stroke="#2E8B2E" stroke-width="1.5">
<rect x="1279" y="1523" width="352" height="27" fill="#fff" stroke-width="2.5"/>
<path d="M1632,1537 C1645,1537 1640,1508 1652,1508"/><path d="M1632,1537 C1645,1537 1640,1565 1652,1565"/>
<path d="M2046,1494 H1742 C1728,1494 1728,1508 1722,1508"/><path d="M2115,1515 H1742 C1728,1515 1728,1508 1722,1508"/><path d="M1838,1534 H1742 C1728,1534 1728,1508 1722,1508"/>
<path d="M1877,1553 H1742 C1728,1553 1728,1565 1722,1565"/><path d="M1923,1572 H1742 C1728,1572 1728,1565 1722,1565"/><path d="M2016,1591 H1742 C1728,1591 1728,1565 1722,1565"/>
</g>
<g fill="#fff" stroke="#E08080" stroke-width="1.3"><ellipse cx="1687" cy="1508" rx="35" ry="12"/><ellipse cx="1687" cy="1565" rx="35" ry="12"/></g>
<g stroke="#2E8B2E"><circle class="dot" cx="1632" cy="1537" r="3"/><circle class="dot" cx="1722" cy="1508" r="3"/><circle class="dot" cx="1722" cy="1565" r="3"/></g>
<text x="1283" y="1543" class="m" textLength="329" lengthAdjust="spacingAndGlyphs">4.신라의 귀족과 농민의 삶은 어떻게 달랐을까?</text>
<text x="1660" y="1513" class="s" textLength="56" lengthAdjust="spacingAndGlyphs">귀족 생활</text>
<text x="1660" y="1570" class="s" textLength="56" lengthAdjust="spacingAndGlyphs">농민 생활</text>
<text x="1742" y="1491" textLength="304" lengthAdjust="spacingAndGlyphs">귀족들은 국가에서 녹읍또는 녹봉 지급,대구모 토지,노비 소유</text>
<text x="1742" y="1512" textLength="373" lengthAdjust="spacingAndGlyphs">귀족들은 어려운 백성들에게 곡식을 꿔어주는 고리대를 통해 재산을 늘림</text>
<text x="1742" y="1531" textLength="96" lengthAdjust="spacingAndGlyphs">호화로운 생활을 함</text>
<text x="1742" y="1550" textLength="135" lengthAdjust="spacingAndGlyphs">촌락문서를 통해 알수 있다.</text>
<text x="1742" y="1569" textLength="181" lengthAdjust="spacingAndGlyphs">촌락에 거주하며 촌주의 지배를 받음</text>
<text x="1742" y="1588" textLength="274" lengthAdjust="spacingAndGlyphs">농민 생활이 어려워지자 도적이 되거나 유랑 생활을 함</text>

<!-- ===== Branch 5 ===== -->
<g stroke="#2C44B4" stroke-width="1.5">
<rect x="1283" y="1708" width="216" height="29" fill="#fff" stroke-width="2.5"/>
<path d="M1499,1722 C1512,1722 1505,1654 1520,1654"/><path d="M1499,1722 C1512,1722 1510,1745 1525,1745"/><path d="M1499,1722 C1512,1722 1505,1830 1528,1830"/>
<path d="M1793,1624 H1655 C1640,1624 1640,1654 1633,1654"/><path d="M1824,1643 H1655 C1640,1643 1640,1654 1633,1654"/><path d="M1773,1662 H1655 C1640,1662 1640,1654 1633,1654"/><path d="M1773,1681 H1655 C1640,1681 1640,1654 1633,1654"/><path d="M2127,1701 H1655 C1640,1701 1640,1654 1633,1654"/>
<path d="M1856,1734 H1641 C1627,1734 1627,1745 1620,1745"/><path d="M1837,1753 H1641 C1627,1753 1627,1745 1620,1745"/><path d="M1837,1773 H1641 C1627,1773 1627,1745 1620,1745"/>
<path d="M1954,1809 H1714 C1700,1809 1700,1830 1693,1830"/><path d="M1811,1827 H1714 C1700,1827 1700,1830 1693,1830"/><path d="M1856,1846 H1714 C1700,1846 1700,1830 1693,1830"/><path d="M1837,1867 H1714 C1700,1867 1700,1830 1693,1830"/>
</g>
<g fill="#fff" stroke="#B5DEDD" stroke-width="1.5"><ellipse cx="1577" cy="1654" rx="58" ry="17"/><ellipse cx="1573" cy="1745" rx="49" ry="17"/><ellipse cx="1612" cy="1830" rx="84" ry="17"/></g>
<g fill="none" stroke="#C8E8E6" stroke-width="1"><ellipse cx="1577" cy="1654" rx="53" ry="13"/><ellipse cx="1573" cy="1745" rx="44" ry="13"/><ellipse cx="1612" cy="1830" rx="79" ry="13"/></g>
<g stroke="#2C44B4"><circle class="dot" cx="1499" cy="1722" r="3"/><circle class="dot" cx="1633" cy="1654" r="3"/><circle class="dot" cx="1620" cy="1745" r="3"/><circle class="dot" cx="1693" cy="1830" r="3"/></g>
<text x="1293" y="1729" class="m" textLength="199" lengthAdjust="spacingAndGlyphs">5.백성들도 부처를 알게되다.</text>
<text x="1533" y="1659" class="s" textLength="100" lengthAdjust="spacingAndGlyphs">불교 사상의 발달</text>
<text x="1535" y="1750" class="s" textLength="87" lengthAdjust="spacingAndGlyphs">불교의 대중화</text>
<text x="1544" y="1835" class="s" textLength="150" lengthAdjust="spacingAndGlyphs">유학의보급과 군자국 인식</text>
<text x="1655" y="1620" textLength="138" lengthAdjust="spacingAndGlyphs">사회적으로 큰 영향력 행사</text>
<text x="1655" y="1639" textLength="169" lengthAdjust="spacingAndGlyphs">승려들이 중국,인도에서 불록 공부</text>
<text x="1655" y="1658" textLength="118" lengthAdjust="spacingAndGlyphs">원효:일심사상을 내세움</text>
<text x="1655" y="1677" textLength="118" lengthAdjust="spacingAndGlyphs">의상:화엄사상을 강조함</text>
<text x="1655" y="1697" textLength="472" lengthAdjust="spacingAndGlyphs">혜초는 인도를 다녀오면서 목격한 여러나라의 풍물을 생생하게 기록한 '왕오천축국전'을 남김</text>
<text x="1641" y="1730" textLength="215" lengthAdjust="spacingAndGlyphs">통일 신라시대로 접어들면서 대중화로 바뀜</text>
<text x="1641" y="1749" textLength="196" lengthAdjust="spacingAndGlyphs">원효가 보급한 정토신앙이 큰 역할을 함</text>
<text x="1641" y="1769" textLength="196" lengthAdjust="spacingAndGlyphs">절찰 법회를 통해 대중들에게 불교 전파</text>
<text x="1714" y="1805" textLength="240" lengthAdjust="spacingAndGlyphs">종교는 불교지만, 정치이념으로는 유학이 강조됨</text>
<text x="1714" y="1823" textLength="97" lengthAdjust="spacingAndGlyphs">신문왕-국학을 설치</text>
<text x="1714" y="1842" textLength="142" lengthAdjust="spacingAndGlyphs">원성왕-독서삼품과를 실시함</text>
<text x="1714" y="1863" textLength="123" lengthAdjust="spacingAndGlyphs">'군자국'이라고 불리게 됨</text>
</svg>
</body></html>
